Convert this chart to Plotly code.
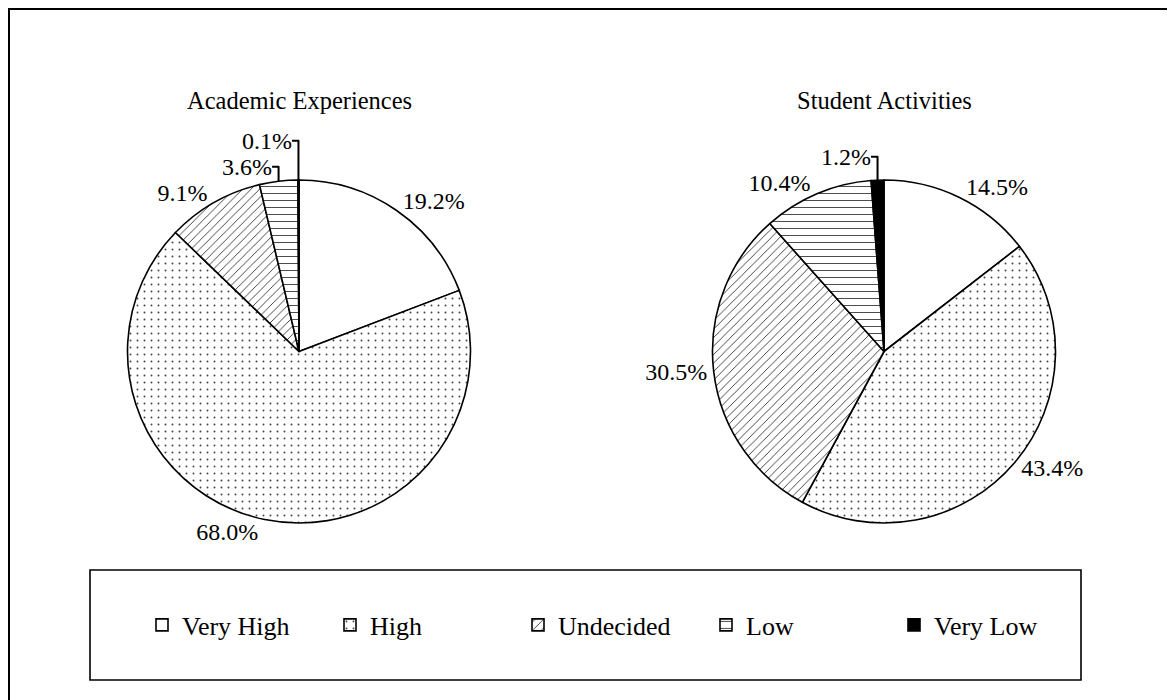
import plotly.graph_objects as go

categories = ["Very High", "High", "Undecided", "Low", "Very Low"]
academic = [19.2, 68.0, 9.1, 3.6, 0.1]
student = [14.5, 43.4, 30.5, 10.4, 1.2]
titles = ["Academic Experiences", "Student Activities"]

W, H = 1175, 700
FONT = "Liberation Serif, Times New Roman, serif"

fill_colors = ["white", "white", "white", "white", "black"]
pattern_shapes = ["", ".", "/", "-", ""]
pattern_fg = ["black", "#444444", "black", "black", "black"]
pattern_sizes = [8, 7, 6, 7, 8]
pattern_solid = [0.2, 0.06, 0.12, 0.1, 0.2]

# page body adds an 8px offset; positions below are in figure pixels
CY = 343.5
CENTERS = [291, 876]
R = 171.5


def px_domain(cx, cy, r):
    return dict(x=[(cx - r) / W, (cx + r) / W], y=[(H - cy - r) / H, (H - cy + r) / H])


fig = go.Figure()
for vals, cx in zip([academic, student], CENTERS):
    fig.add_trace(go.Pie(
        labels=categories,
        values=vals,
        sort=False,
        direction="clockwise",
        rotation=0,
        domain=px_domain(cx, CY, R),
        marker=dict(
            colors=fill_colors,
            line=dict(color="black", width=1.6),
            pattern=dict(shape=pattern_shapes, fgcolor=pattern_fg, bgcolor="white",
                         size=pattern_sizes, solidity=pattern_solid, fillmode="replace"),
        ),
        texttemplate="%{value:.1f}%",
        textposition="outside",
        textfont=dict(family=FONT, size=24, color="black"),
        outsidetextfont=dict(family=FONT, size=24, color="black"),
        hoverinfo="label+value",
        showlegend=True,
    ))

for title, cx in zip(titles, CENTERS):
    fig.add_annotation(text=title, x=cx / W, y=(H - 92) / H, xref="paper", yref="paper",
                       showarrow=False, font=dict(family=FONT, size=24.5, color="black"),
                       xanchor="center", yanchor="middle")

# outer frame
fig.add_shape(type="rect", xref="paper", yref="paper",
              x0=1 / W, x1=1164 / W, y0=-0.02, y1=(H - 1) / H,
              line=dict(color="black", width=2), fillcolor="rgba(0,0,0,0)", layer="below")
# legend frame
fig.add_shape(type="rect", xref="paper", yref="paper",
              x0=82 / W, x1=1073 / W, y0=(H - 672) / H, y1=(H - 562) / H,
              line=dict(color="black", width=1.6), fillcolor="rgba(0,0,0,0)", layer="below")

fig.update_layout(
    width=W, height=H,
    margin=dict(l=0, r=0, t=0, b=0),
    paper_bgcolor="white", plot_bgcolor="white",
    font=dict(family=FONT, size=24, color="black"),
    legend=dict(
        orientation="h",
        x=134 / W, xanchor="left",
        y=(H - 617) / H, yanchor="middle",
        entrywidth=143, entrywidthmode="pixels",
        font=dict(family=FONT, size=26, color="black"),
        bgcolor="rgba(0,0,0,0)", borderwidth=0,
        traceorder="normal",
    ),
)

fig.write_html("out.html")
